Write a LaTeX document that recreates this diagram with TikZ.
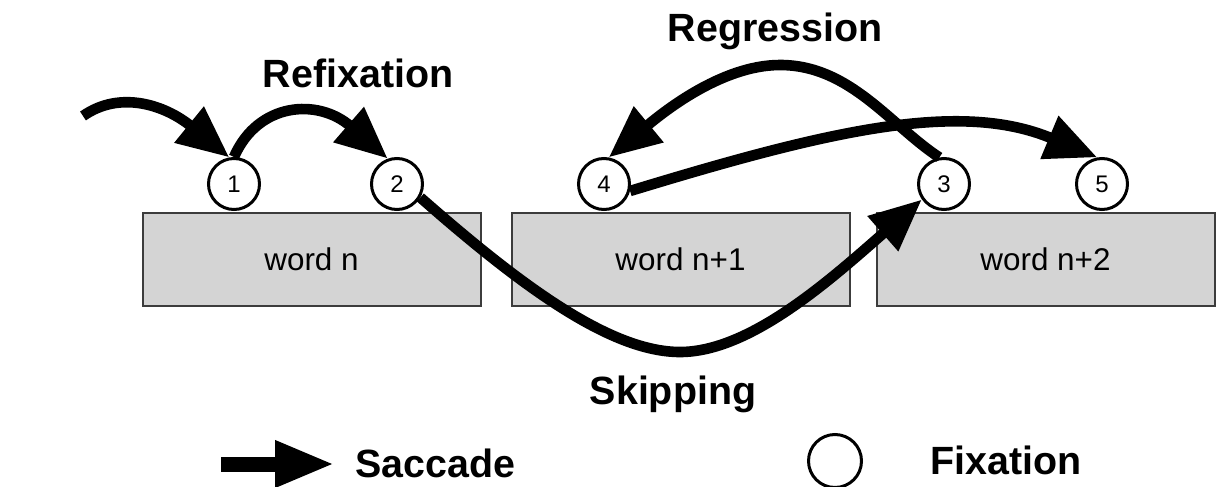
\documentclass[tikz,border=0pt]{standalone}
\usepackage{fontspec}
\setmainfont{Liberation Sans}
\usepackage{tikz}
\usetikzlibrary{arrows.meta,positioning}

\definecolor{boxgray}{RGB}{212,212,212}
\definecolor{edgegray}{RGB}{60,60,60}

\begin{document}
\begin{tikzpicture}[
  x=0.5pt, y=-0.5pt,
  word/.style={draw=edgegray, line width=1pt, fill=boxgray, minimum width=169pt, minimum height=46.5pt,
    inner sep=0pt, font=\fontsize{15.7}{18}\selectfont},
  fix/.style={draw, circle, line width=1.5pt, fill=white, minimum size=25.5pt, inner sep=0pt,
    font=\fontsize{12}{14}\selectfont},
  lbl/.style={font=\fontsize{19.7}{23}\selectfont\bfseries, inner sep=0pt},
  saccade/.style={line width=5.3pt, -{Triangle[length=26pt, width=22pt]}},
]
\useasboundingbox (0,0) rectangle (1216,487);

% Words
\node[word] (w1) at (311.5,259) {word n};
\node[word, right=14.5pt of w1] (w2) {word n+1};
\node[word, right=12.5pt of w2] (w3) {word n+2};

% Fixations
\node[fix] (f1) at (234,184) {1};
\node[fix] (f2) at (397,184) {2};
\node[fix] (f4) at (604,184) {4};
\node[fix] (f3) at (944,184) {3};
\node[fix] (f5) at (1102,184) {5};

% Labels
\node[lbl] (refix) at (358,73) {Refixation};
\node[lbl] (regr) at (775,31) {Regression};
\node[lbl] (skip) at (673,394) {Skipping};

% Saccades
\coordinate (entry) at (83,116);
\draw[saccade] (entry) .. controls (120,90) and (165,105) .. (f1.100);
\draw[saccade] (f1.north) .. controls (258,102) and (318,98) .. (f2.110);
\draw[saccade] (f2.-30) .. controls (520,285) and (610,352) .. (680,352)
  .. controls (750,352) and (830,280) .. (f3.215);
\draw[saccade] (f3.100) .. controls (890,125) and (850,65) .. (780,65)
  .. controls (720,65) and (660,115) .. (f4.80);
\draw[saccade] (f4.-15) .. controls (830,130) and (960,100) .. (f5.100);

% Legend
\coordinate (sacA) at (221,464);
\coordinate (sacB) at (335,464);
\draw[line width=7.5pt, -{Triangle[length=30pt, width=21.5pt]}] (sacA) -- (sacB);
\node[lbl, anchor=west] (sactxt) at (355,463) {Saccade};
\node[draw, circle, line width=1.5pt, minimum size=26.5pt, inner sep=0pt] (legfix) at (835,461) {};
\node[lbl, anchor=west] (fixtxt) at (930,460) {Fixation};

\end{tikzpicture}
\end{document}
